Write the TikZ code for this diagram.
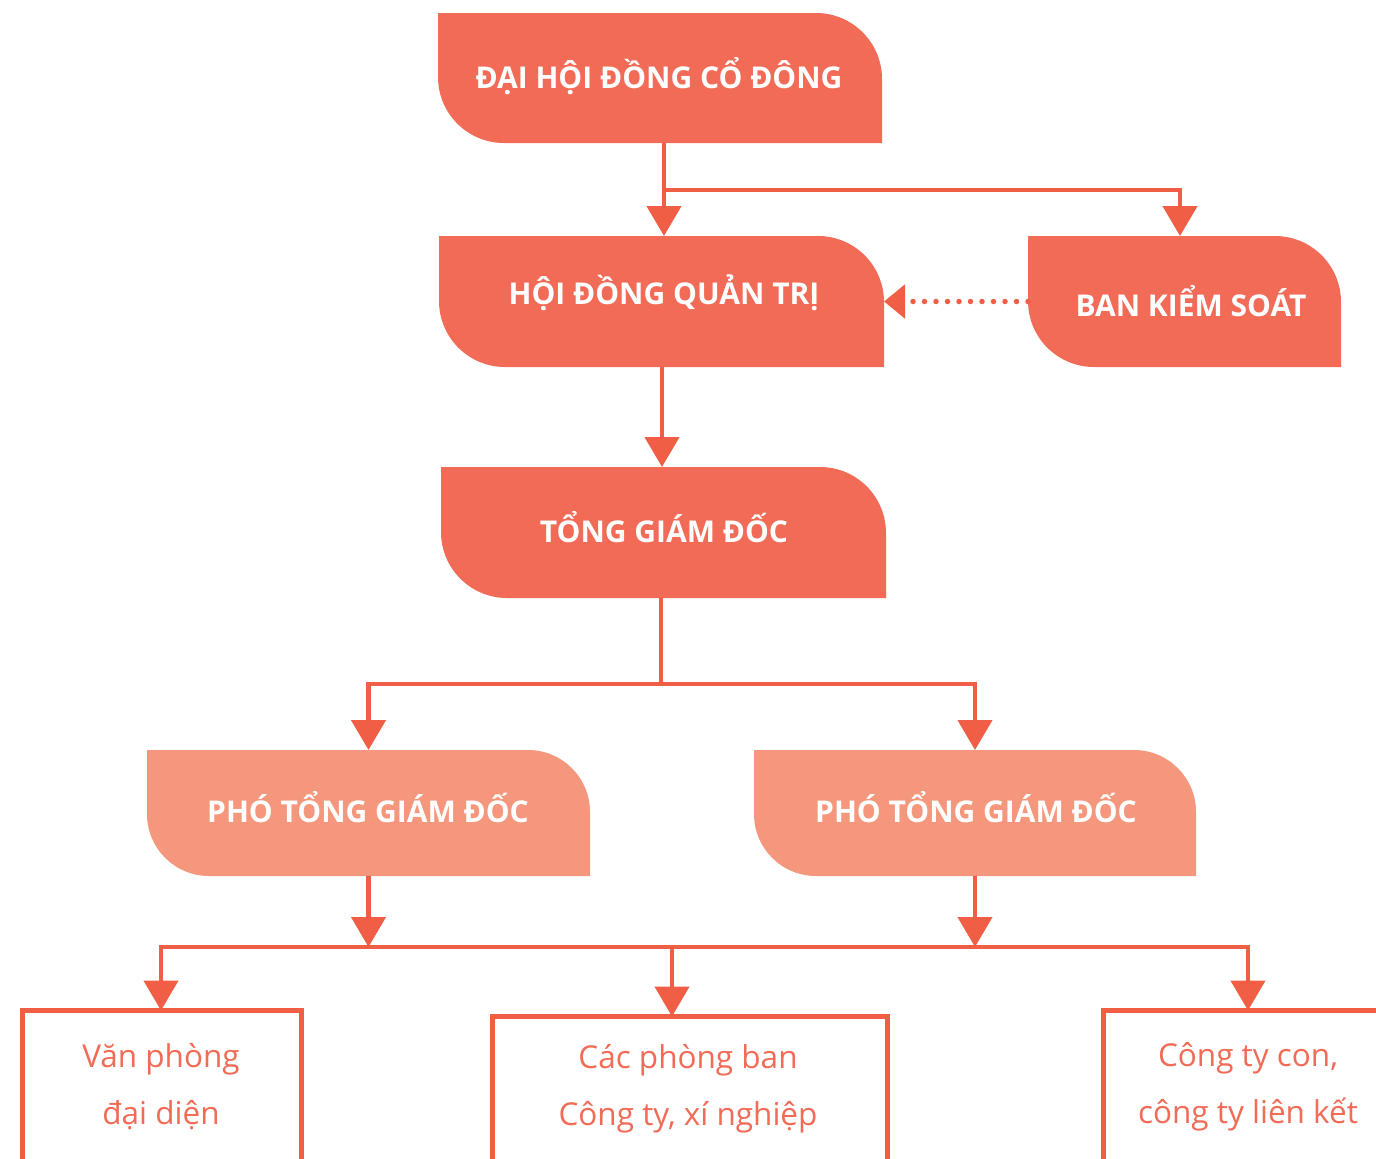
\documentclass[tikz,border=0pt]{standalone}
\usepackage{fontspec}
\setmainfont{Open Sans}
\usetikzlibrary{arrows.meta,calc,backgrounds}
\definecolor{boxdark}{HTML}{F16B56}
\definecolor{boxlight}{HTML}{F4977C}
\definecolor{lineC}{HTML}{F05E46}
\definecolor{txtC}{HTML}{F16B56}
\newcommand\leafshape[3]{%
  \fill[#2] (#1.north west) -- ([xshift=-#3]#1.north east)
    arc[start angle=90,end angle=0,radius=#3] -- (#1.south east)
    -- ([xshift=#3]#1.south west) arc[start angle=270,end angle=180,radius=#3] -- cycle;}
\tikzset{
  leafnode/.style={inner sep=0pt, outer sep=0pt},
  headtext/.style={inner sep=0pt, outer sep=0pt, text=white,
    text height=21.4pt, text depth=0pt,
    font=\fontsize{30}{34}\selectfont\bfseries},
  outbox/.style={draw=lineC, line width=5pt, inner sep=0pt, outer sep=0pt,
    anchor=north, minimum height=260pt},
  btext/.style={text=txtC, align=center, font=\fontsize{31.5}{57}\selectfont},
  plainline/.style={draw=lineC, line width=4.5pt},
  conn/.style={plainline, -{Triangle[width=34pt,length=30pt]}},
  dotconn/.style={draw=lineC, line width=5.5pt, line cap=round,
    dash pattern=on 0pt off 11.5pt, -{Triangle[width=33pt,length=21pt]}}
}
\begin{document}
\begin{tikzpicture}[x=1pt,y=1pt]
\clip (0,0) rectangle (1376,-1159);
\useasboundingbox (0,0) rectangle (1376,-1159);

% heading boxes (shapes)
\node[leafnode, minimum width=444pt, minimum height=130pt] (dhcd) at (660,-78) {};
\node[leafnode, minimum width=445pt, minimum height=131pt] (hdqt) at (661.5,-301.5) {};
\node[leafnode, minimum width=313pt, minimum height=131pt] (bks) at (1184.5,-301.5) {};
\node[leafnode, minimum width=445pt, minimum height=131pt] (tgd) at (663.5,-532.5) {};
\node[leafnode, minimum width=443pt, minimum height=126pt] (ptgd1) at (368.5,-813) {};
\node[leafnode, minimum width=442pt, minimum height=126pt] (ptgd2) at (975,-813) {};

\begin{scope}[on background layer]
  \fill[white] (0,0) rectangle (1376,-1159);
  \leafshape{dhcd}{boxdark}{66pt}
  \leafshape{hdqt}{boxdark}{66pt}
  \leafshape{bks}{boxdark}{66pt}
  \leafshape{tgd}{boxdark}{66pt}
  \leafshape{ptgd1}{boxlight}{62pt}
  \leafshape{ptgd2}{boxlight}{62pt}
\end{scope}

% heading texts
\node[headtext] (dhcdT) at (659,-78) {ĐẠI HỘI ĐỒNG CỔ ĐÔNG};
\node[headtext] (hdqtT) at (664,-294) {HỘI ĐỒNG QUẢN TRỊ};
\node[headtext] (bksT) at (1191,-305.5) {BAN KIỂM SOÁT};
\node[headtext] (tgdT) at (664,-532) {TỔNG GIÁM ĐỐC};
\node[headtext] (ptgd1T) at (368,-811.5) {PHÓ TỔNG GIÁM ĐỐC};
\node[headtext] (ptgd2T) at (976,-811.5) {PHÓ TỔNG GIÁM ĐỐC};

% bottom outlined boxes
\node[outbox, minimum width=279pt] (vp) at (162,-1010.5) {};
\node[outbox, minimum width=395pt] (pb) at (689.5,-1016.5) {};
\node[outbox, minimum width=300pt] (cty) at (1253.5,-1010.5) {};
\node[btext] (vptext) at (161,-1087) {Văn phòng\\đại diện};
\node[btext] (pbtext) at (688,-1089) {Các phòng ban\\Công ty, xí nghiệp};
\node[btext] (ctytext) at (1248,-1087) {Công ty con,\\công ty liên kết};

% connectors
\coordinate (j1) at ($(dhcd.south)+(4,-47)$);
\draw[conn] ($(dhcd.south)+(4,0)$) -- ($(hdqt.north)+(2.5,0)$);
\draw[conn] (j1) -| ($(bks.north)+(-4.5,0)$);
\draw[dotconn] (bks.west) -- (hdqt.east);
\draw[conn] ($(hdqt.south)+(0.5,0)$) -- ($(tgd.north)+(-1.5,0)$);
\coordinate (j2) at ($(tgd.south)+(-2.5,-86)$);
\draw[plainline] ($(tgd.south)+(-2.5,0)$) -- (j2);
\draw[conn] (j2) -| (ptgd1.north);
\draw[conn] (j2) -| (ptgd2.north);
\coordinate (bus) at (0,-947);
\draw[conn] (ptgd1.south) -- (ptgd1.south |- bus);
\draw[conn] (ptgd2.south) -- (ptgd2.south |- bus);
\draw[conn] ($(pb.north |- bus)+(-17.5,0)$) -- ($(vp.north |- bus)+(-1,0)$) -- ($(vp.north)+(-1,0)$);
\draw[conn] ($(pb.north |- bus)+(-17.5,0)$) -- ($(cty.north |- bus)+(-5.5,0)$) -- ($(cty.north)+(-5.5,0)$);
\draw[conn] ($(pb.north |- bus)+(-17.5,0)$) -- ($(pb.north)+(-17.5,0)$);
\end{tikzpicture}
\end{document}
